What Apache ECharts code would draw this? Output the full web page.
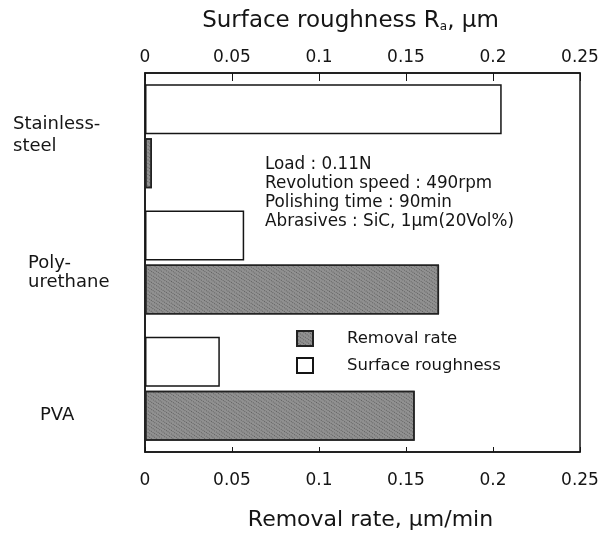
<!DOCTYPE html>
<html><head><meta charset="utf-8">
<script src="https://cdn.jsdelivr.net/npm/echarts@6/dist/echarts.min.js"></script>
<style>html,body{margin:0;padding:0;background:#fff}#c{width:605px;height:539px}</style>
</head><body><div id="c"></div>
<script>
const categories = ['Stainless-\nsteel', 'Poly-\nurethane', 'PVA'];
const roughness = [0.205, 0.057, 0.043];
const removalRate = [0.004, 0.169, 0.155];
const tickValues = [0, 0.05, 0.1, 0.15, 0.2, 0.25];
const notes = ['Load : 0.11N', 'Revolution speed : 490rpm', 'Polishing time : 90min', 'Abrasives : SiC, 1\u03bcm(20Vol%)'];

const FONT = 'DejaVu Sans';
const INK = '#151515';
const chart = echarts.init(document.getElementById('c'));
const tickFmt = v => (tickValues.indexOf(v) >= 0 ? String(v) : '');
const cs = (pad, lh) => {
  const s = { fontSize: 18, fontFamily: FONT, color: INK, padding: pad };
  if (lh) s.lineHeight = lh;
  return s;
};
const catRich = {
  a0: cs([0, 0, 4, 0], 20),
  b0: cs([0, 0, 0, 0], 20),
  a1: cs([22, 0, 0, 15]),
  b1: cs([0, 0, 0, 15], 20),
  a2: cs([52, 0, 0, 27])
};
const catFmt = (value, index) => value.split('\n').map((l, j) => '{' + (j === 0 ? 'a' : 'b') + index + '|' + l + '}').join('\n');

chart.setOption({
  animation: false,
  backgroundColor: '#fff',
  textStyle: { fontFamily: FONT, color: INK },
  grid: { left: 145, right: 25, top: 73, bottom: 87, outerBoundsMode: 'none', show: true, borderColor: INK, borderWidth: 1.5, backgroundColor: 'transparent' },
  legend: {
    orient: 'vertical', left: 296, top: 330, padding: 0, itemWidth: 16, itemHeight: 15, itemGap: 10, icon: 'rect',
    data: ['Removal rate', 'Surface roughness'],
    textStyle: { fontFamily: FONT, fontSize: 16.5, color: INK, padding: [0, 0, 0, 29] }
  },
  xAxis: [
    {
      type: 'value', position: 'top', min: 0, max: 0.25, interval: 0.05,
      name: '{t|Surface roughness R}{s|a}{t|, \u03bcm}', nameLocation: 'middle', nameGap: 40,
      nameTextStyle: { padding: [0, 24, 0, 0], rich: { t: { fontSize: 23, fontFamily: FONT, color: INK }, s: { fontSize: 12, fontFamily: FONT, color: INK, padding: [12, 0, 0, 0] } } },
      axisLine: { show: true, lineStyle: { color: INK, width: 1.5 } },
      axisTick: { show: true, inside: true, length: 8, lineStyle: { color: INK } },
      axisLabel: { margin: 7, fontSize: 17, color: INK, fontFamily: FONT, formatter: tickFmt },
      splitLine: { show: false }
    },
    {
      type: 'value', position: 'bottom', min: 0, max: 0.25, interval: 0.05,
      name: 'Removal rate, \u03bcm/min', nameLocation: 'middle', nameGap: 57,
      nameTextStyle: { fontSize: 22, fontFamily: FONT, color: INK, padding: [0, 0, 0, 16] },
      axisLine: { show: true, lineStyle: { color: INK, width: 1.5 } },
      axisTick: { show: true, inside: true, length: 5, lineStyle: { color: INK } },
      axisLabel: { margin: 20, fontSize: 17, color: INK, fontFamily: FONT, formatter: tickFmt },
      splitLine: { show: false }
    }
  ],
  yAxis: {
    type: 'category', data: categories, inverse: true,
    axisLine: { show: true, lineStyle: { color: INK, width: 1.5 } },
    axisTick: { show: false },
    axisLabel: { margin: 132, align: 'left', formatter: catFmt, rich: catRich }
  },
  series: [
    {
      name: 'Surface roughness', type: 'bar', xAxisIndex: 0, data: roughness,
      barWidth: 50, barGap: '8%',
      itemStyle: { color: '#fff', borderColor: INK, borderWidth: 1.5 }
    },
    {
      name: 'Removal rate', type: 'bar', xAxisIndex: 1, data: removalRate,
      barWidth: 50, barGap: '8%',
      itemStyle: {
        color: '#919191', borderColor: '#222', borderWidth: 1.5,
        decal: { color: 'rgba(55,55,55,0.55)', symbol: 'rect', symbolSize: 1, dashArrayX: [1, 1], dashArrayY: [1, 2], rotation: 0.6 }
      }
    }
  ],
  graphic: [{
    type: 'text', left: 265, top: 155,
    style: { text: notes.join('\n'), fontFamily: FONT, fontSize: 16.8, lineHeight: 19, fill: INK }
  }]
});
</script></body></html>
